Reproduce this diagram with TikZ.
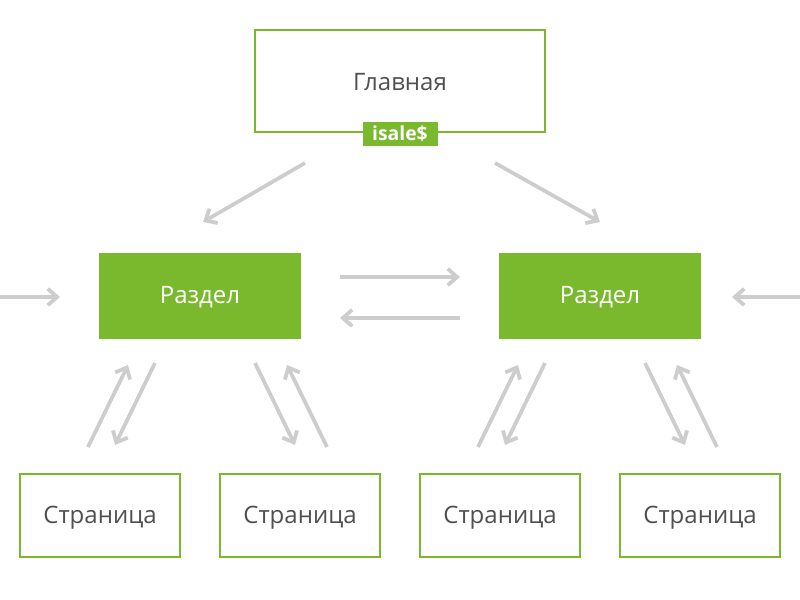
\documentclass[tikz,border=0pt]{standalone}
\usepackage{fontspec}
\setmainfont{Open Sans}
\usetikzlibrary{arrows.meta}
\definecolor{gr}{HTML}{7AB82E}
\definecolor{ar}{HTML}{CDCDCD}
\definecolor{tx}{HTML}{505050}
\begin{document}
\begin{tikzpicture}[x=0.03cm,y=-0.03cm,
 outl/.style={draw=gr,line width=2.2pt,fill=white,inner sep=0},
 sect/.style={fill=gr,inner sep=0,text=white,font=\fontsize{20.5}{24}\selectfont},
 ptxt/.style={text=tx,font=\fontsize{20.5}{24}\selectfont},
 arr/.style={draw=ar,line width=3.2pt,-{Straight Barb[length=8pt,width=14pt,line width=3.2pt]}}]
\useasboundingbox (0,0) rectangle (800,600);
\draw[outl] (255,30) rectangle (545,132);
\node[ptxt] (main) at (400,82) {Главная};
\node[fill=gr,minimum width=75*0.03cm,minimum height=24*0.03cm,inner sep=0,text=white,font=\bfseries\fontsize{16.5}{17}\selectfont] (logo) at (400,134) {isale\$};
\fill[gr] (99,253) rectangle (301,339); \node[sect] (s1) at (200,297) {Раздел};
\fill[gr] (499,253) rectangle (701,339); \node[sect] (s2) at (600,297) {Раздел};
\foreach \x/\n in {100/p1,300/p2,500/p3,700/p4}{
 \draw[outl] (\x-80,474) rectangle (\x+80,557);
 \node[ptxt] (\n) at (\x,518) {Страница};}
\coordinate (a1) at (305,163); \coordinate (b1) at (203,222);
\coordinate (a2) at (495,163); \coordinate (b2) at (600,222);
\draw[arr] (a1) -- (b1); \draw[arr] (a2) -- (b2);
\draw[arr] (0,297) -- (60,297); \draw[arr] (800,297) -- (732,297);
\draw[arr] (340,277) -- (460,277); \draw[arr] (460,318) -- (340,318);
\foreach \d in {0,390}{
 \draw[arr] (88+\d,447) -- (128+\d,365);
 \draw[arr] (155+\d,363) -- (115+\d,445);
 \draw[arr] (327+\d,447) -- (287+\d,365);
 \draw[arr] (255+\d,363) -- (295+\d,445);}
\end{tikzpicture}
\end{document}
